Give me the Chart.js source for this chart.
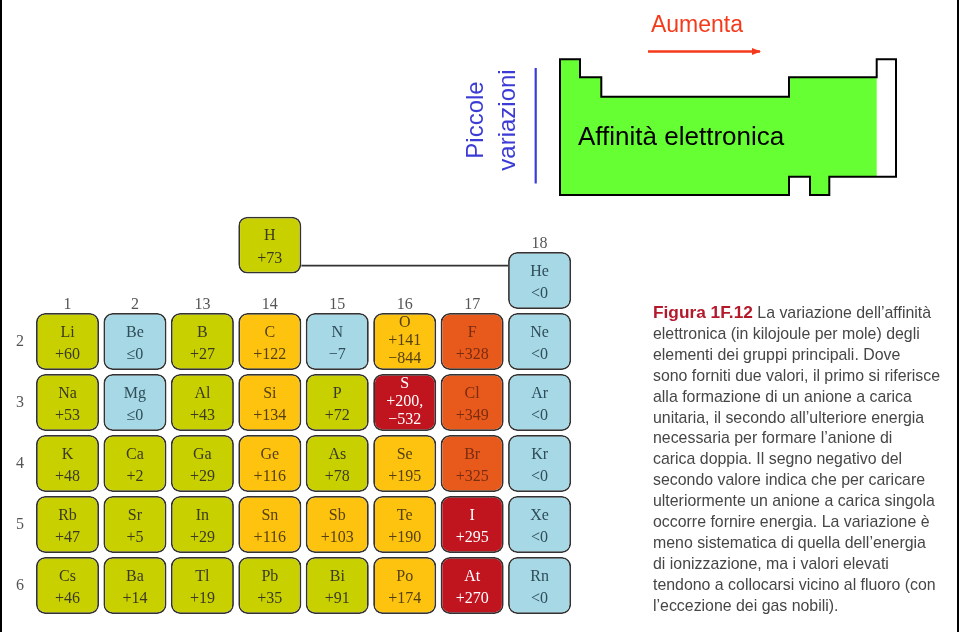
<!DOCTYPE html>
<html>
<head>
<meta charset="utf-8">
<script src="https://cdn.jsdelivr.net/npm/chart.js@4.4.1/dist/chart.umd.min.js"></script>
<style>
html, body { margin: 0; padding: 0; background: #fff; }
#wrap { position: relative; width: 959px; height: 632px; overflow: hidden; background: #fff; }
#wrap .edge { position: absolute; top: 0; bottom: 0; width: 2px; background: #000; }
#chart { position: absolute; left: 0; top: 0; }
#diagram { position: absolute; left: 0; top: 0; }
#caption {
  position: absolute; left: 653px; top: 302px;
  font: 15.9px "Liberation Sans", Arial, sans-serif;
  line-height: 20.9px; color: #464646; white-space: nowrap;
}
#caption b { color: #b3192b; font-size: 17.3px; }
</style>
</head>
<body>
<div id="wrap">
  <div class="edge" style="left:0"></div>
  <div class="edge" style="right:0"></div>
  <canvas id="chart" width="959" height="632"></canvas>
  <svg id="diagram" width="959" height="632" xmlns="http://www.w3.org/2000/svg">
    <defs>
      <marker id="head" markerWidth="9" markerHeight="8" refX="8" refY="4" orient="auto" markerUnits="userSpaceOnUse">
        <path d="M0,0.5 L9,4 L0,7.5 Z" fill="#f5391b"/>
      </marker>
    </defs>
    <text x="697" y="32" text-anchor="middle" font-family="Liberation Sans, Arial, sans-serif" font-size="23" fill="#f5391b">Aumenta</text>
    <line x1="648" y1="51.5" x2="760" y2="51.5" stroke="#f5391b" stroke-width="2.4" marker-end="url(#head)"/>
    <path d="M560,59.3 H580 V77.3 H601.3 V96.7 H789 V77.3 H876.7 V176.7 H829.3 V195 H810 V176.7 H789 V195 H560 Z" fill="#66ff33"/>
    <path d="M560,59.3 H580 V77.3 H601.3 V96.7 H789 V77.3 H876.7 V59.3 H896 V176.7 H829.3 V195 H810 V176.7 H789 V195 H560 Z" fill="none" stroke="#000" stroke-width="2"/>
    <text x="578" y="145" font-family="Liberation Sans, Arial, sans-serif" font-size="26" fill="#000">Affinità elettronica</text>
    <line x1="535.7" y1="68" x2="535.7" y2="183.5" stroke="#3b3bd6" stroke-width="2.2"/>
    <text transform="translate(483,120) rotate(-90)" text-anchor="middle" font-family="Liberation Sans, Arial, sans-serif" font-size="24" fill="#3b3bd6">Piccole</text>
    <text transform="translate(515,120) rotate(-90)" text-anchor="middle" font-family="Liberation Sans, Arial, sans-serif" font-size="24" fill="#3b3bd6">variazioni</text>
  </svg>
  <div id="caption">
    <div><b>Figura 1F.12</b> La variazione dell’affinità</div>
    <div>elettronica (in kilojoule per mole) degli</div>
    <div>elementi dei gruppi principali. Dove</div>
    <div>sono forniti due valori, il primo si riferisce</div>
    <div>alla formazione di un anione a carica</div>
    <div>unitaria, il secondo all’ulteriore energia</div>
    <div>necessaria per formare l’anione di</div>
    <div>carica doppia. Il segno negativo del</div>
    <div>secondo valore indica che per caricare</div>
    <div>ulteriormente un anione a carica singola</div>
    <div>occorre fornire energia. La variazione è</div>
    <div>meno sistematica di quella dell’energia</div>
    <div>di ionizzazione, ma i valori elevati</div>
    <div>tendono a collocarsi vicino al fluoro (con</div>
    <div>l’eccezione dei gas nobili).</div>
  </div>
</div>
<script>
// gruppi (colonne) e periodi (righe) della tavola
const groups = ['1', '2', '13', '14', '15', '16', '17', '18'];
const periods = [2, 3, 4, 5, 6];

// elementi: simbolo, gruppo, riga, affinità elettronica (kJ/mol), fascia di colore
const symbols = ['H', 'He',
  'Li', 'Be', 'B', 'C', 'N', 'O', 'F', 'Ne',
  'Na', 'Mg', 'Al', 'Si', 'P', 'S', 'Cl', 'Ar',
  'K', 'Ca', 'Ga', 'Ge', 'As', 'Se', 'Br', 'Kr',
  'Rb', 'Sr', 'In', 'Sn', 'Sb', 'Te', 'I', 'Xe',
  'Cs', 'Ba', 'Tl', 'Pb', 'Bi', 'Po', 'At', 'Rn'];
const groupOf = ['14', '18',
  '1', '2', '13', '14', '15', '16', '17', '18',
  '1', '2', '13', '14', '15', '16', '17', '18',
  '1', '2', '13', '14', '15', '16', '17', '18',
  '1', '2', '13', '14', '15', '16', '17', '18',
  '1', '2', '13', '14', '15', '16', '17', '18'];
const rowOf = [0.42, 1,
  2, 2, 2, 2, 2, 2, 2, 2,
  3, 3, 3, 3, 3, 3, 3, 3,
  4, 4, 4, 4, 4, 4, 4, 4,
  5, 5, 5, 5, 5, 5, 5, 5,
  6, 6, 6, 6, 6, 6, 6, 6];
const affinity = ['+73', '<0',
  '+60', '≤0', '+27', '+122', '−7', '+141\n−844', '+328', '<0',
  '+53', '≤0', '+43', '+134', '+72', '+200,\n−532', '+349', '<0',
  '+48', '+2', '+29', '+116', '+78', '+195', '+325', '<0',
  '+47', '+5', '+29', '+116', '+103', '+190', '+295', '<0',
  '+46', '+14', '+19', '+35', '+91', '+174', '+270', '<0'];
const tone = ['low', 'none',
  'low', 'none', 'low', 'mid', 'none', 'mid', 'high', 'none',
  'low', 'none', 'low', 'mid', 'low', 'top', 'high', 'none',
  'low', 'low', 'low', 'mid', 'low', 'mid', 'high', 'none',
  'low', 'low', 'low', 'mid', 'mid', 'mid', 'top', 'none',
  'low', 'low', 'low', 'low', 'low', 'mid', 'top', 'none'];

const fill = { low: '#c9d000', none: '#a7d8e5', mid: '#fec30f', high: '#e8591c', top: '#c0141f' };
const ink = { low: '#3a3a22', none: '#2f4c58', mid: '#554012', high: '#7a2c10', top: '#ffffff' };
const half = 0.467;

const cellText = {
  id: 'cellText',
  beforeDatasetsDraw(chart) {
    // linea che collega H a He
    const bars = chart.getDatasetMeta(0).data;
    const h = bars[0].getProps(['x', 'y', 'base', 'width'], true);
    const he = bars[1].getProps(['x', 'y', 'base', 'width'], true);
    const ly = Math.max(h.y, h.base) - 8;
    const ctx = chart.ctx;
    ctx.save();
    ctx.strokeStyle = '#333';
    ctx.lineWidth = 1.6;
    ctx.beginPath();
    ctx.moveTo(h.x + h.width / 2, ly);
    ctx.lineTo(he.x - he.width / 2, ly);
    ctx.stroke();
    ctx.restore();
  },
  afterDatasetsDraw(chart) {
    const ctx = chart.ctx;
    const xs = chart.scales.x, ys = chart.scales.y;
    ctx.save();
    ctx.textAlign = 'center';
    ctx.textBaseline = 'middle';
    ctx.font = '16px "Liberation Serif", "DejaVu Serif", serif';
    chart.getDatasetMeta(0).data.forEach((bar, i) => {
      const p = bar.getProps(['x', 'y', 'base'], true);
      const cy = (p.y + p.base) / 2;
      const lines = [symbols[i]].concat(affinity[i].split('\n'));
      const offs = lines.length === 3 ? [-19, -1, 17.5] : [-9, 13.5];
      ctx.fillStyle = ink[tone[i]];
      lines.forEach((t, k) => ctx.fillText(t, p.x, cy + offs[k]));
    });
    ctx.fillStyle = '#555';
    groups.forEach((g, j) => {
      const rows = rowOf.filter((r, i) => groupOf[i] === g && Number.isInteger(r));
      const top = Math.min.apply(null, rows);
      ctx.fillText(g, xs.getPixelForValue(j), ys.getPixelForValue(top - half) - 8.5);
    });
    periods.forEach(p => ctx.fillText(String(p), 20, ys.getPixelForValue(p)));
    ctx.restore();
  }
};

new Chart(document.getElementById('chart'), {
  type: 'bar',
  data: {
    labels: groups,
    datasets: [{
      data: symbols.map((s, i) => ({ x: groupOf[i], y: [rowOf[i] - half, rowOf[i] + half] })),
      backgroundColor: tone.map(t => fill[t]),
      borderColor: '#333',
      borderWidth: 1.8,
      borderRadius: 9,
      borderSkipped: false,
      barPercentage: 0.935,
      categoryPercentage: 1,
      grouped: false
    }]
  },
  options: {
    responsive: false,
    devicePixelRatio: 1,
    animation: false,
    layout: { padding: { left: 33.8, right: 385.7, top: 207.3, bottom: 9.9 } },
    plugins: { legend: { display: false }, tooltip: { enabled: false } },
    scales: {
      x: { type: 'category', display: false },
      y: { type: 'linear', display: false, reverse: true, min: -0.2, max: 6.6 }
    }
  },
  plugins: [cellText]
});
</script>
</body>
</html>
